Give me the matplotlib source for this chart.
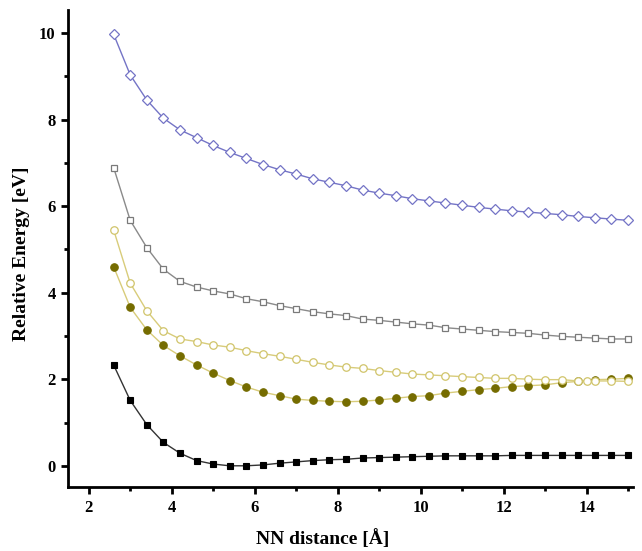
import numpy as np
import matplotlib
matplotlib.use("Agg")
import matplotlib.pyplot as plt
from matplotlib.ticker import MultipleLocator

x = [2.6 + 0.4 * i for i in range(32)]

blue_diamond = [9.97, 9.03, 8.45, 8.03, 7.76, 7.58, 7.40, 7.24, 7.10, 6.96, 6.84, 6.74,
                6.63, 6.55, 6.47, 6.37, 6.30, 6.24, 6.17, 6.12, 6.07, 6.02, 5.97, 5.93,
                5.89, 5.86, 5.83, 5.80, 5.76, 5.73, 5.70, 5.67]
grey_square = [6.89, 5.67, 5.04, 4.54, 4.26, 4.13, 4.04, 3.97, 3.86, 3.79, 3.70, 3.63,
               3.56, 3.51, 3.47, 3.39, 3.36, 3.32, 3.28, 3.25, 3.19, 3.16, 3.13, 3.10,
               3.08, 3.06, 3.02, 2.99, 2.97, 2.95, 2.93, 2.93]
x_open = x[:29] + [14.0] + x[29:]
yellow_open = [5.45, 4.22, 3.58, 3.12, 2.93, 2.87, 2.79, 2.74, 2.66, 2.59, 2.53, 2.46,
               2.39, 2.33, 2.28, 2.25, 2.20, 2.16, 2.12, 2.10, 2.08, 2.06, 2.04, 2.02,
               2.02, 2.00, 1.99, 1.99, 1.96, 1.96, 1.96, 1.96, 1.95]
olive_filled = [4.60, 3.66, 3.14, 2.78, 2.54, 2.33, 2.14, 1.97, 1.82, 1.70, 1.62, 1.54,
                1.51, 1.49, 1.48, 1.49, 1.52, 1.56, 1.60, 1.62, 1.68, 1.72, 1.76, 1.79,
                1.83, 1.85, 1.87, 1.92, 1.95, 1.99, 2.00, 2.02]
black_square = [2.33, 1.51, 0.95, 0.54, 0.29, 0.12, 0.04, 0.00, 0.00, 0.02, 0.06, 0.09,
                0.12, 0.14, 0.15, 0.18, 0.19, 0.20, 0.21, 0.22, 0.23, 0.23, 0.23, 0.23,
                0.24, 0.24, 0.24, 0.24, 0.24, 0.24, 0.24, 0.24]

x_ticks = [2, 4, 6, 8, 10, 12, 14]
y_ticks = [0, 2, 4, 6, 8, 10]

serif = ["Liberation Serif", "DejaVu Serif"]
plt.rcParams["font.family"] = serif
plt.rcParams["font.weight"] = "bold"

fig = plt.figure(figsize=(6.42, 5.51), dpi=100)
ax = fig.add_axes([68 / 642, 1 - 487 / 551, (633 - 68) / 642, (487 - 10) / 551])

ax.plot(x, blue_diamond, color="#7474c6", lw=1.0, marker="D", ms=4.6,
        mfc="white", mec="#7474c6", mew=0.9, zorder=3)
ax.plot(x, grey_square, color="#8a8a8a", lw=1.0, marker="s", ms=4.6,
        mfc="white", mec="#7a7a7a", mew=0.9, zorder=3)
ax.plot(x, olive_filled, color="#d8cc7a", lw=1.0, marker="o", ms=5.4,
        mfc="#756c00", mec="#756c00", mew=0.8, zorder=3)
ax.plot(x_open, yellow_open, color="#d8cc7a", lw=1.0, marker="o", ms=5.4,
        mfc="white", mec="#d0c46a", mew=0.9, zorder=4)
ax.plot(x, black_square, color="#333333", lw=1.0, marker="s", ms=4.6,
        mfc="black", mec="black", mew=0.8, zorder=3)

ax.set_xlim(1.5, 15.12)
ax.set_ylim(-0.49, 10.53)
ax.set_xticks(x_ticks)
ax.set_yticks(y_ticks)
ax.xaxis.set_minor_locator(MultipleLocator(1))
ax.yaxis.set_minor_locator(MultipleLocator(1))

for s in ["top", "right"]:
    ax.spines[s].set_visible(False)
for s in ["left", "bottom"]:
    ax.spines[s].set_linewidth(2.0)

ax.tick_params(which="major", direction="out", length=5, width=2, labelsize=12, pad=4)
ax.tick_params(which="minor", direction="out", length=3, width=2)
for lab in ax.get_xticklabels() + ax.get_yticklabels():
    lab.set_fontweight("bold")

ax.set_xlabel("NN distance [Å]", fontsize=14, fontweight="bold")
ax.set_ylabel("Relative Energy [eV]", fontsize=14, fontweight="bold")
ax.xaxis.set_label_coords(0.45, -0.088)
ax.yaxis.set_label_coords(-0.068, 0.49)

fig.savefig("out.png", dpi=100)
